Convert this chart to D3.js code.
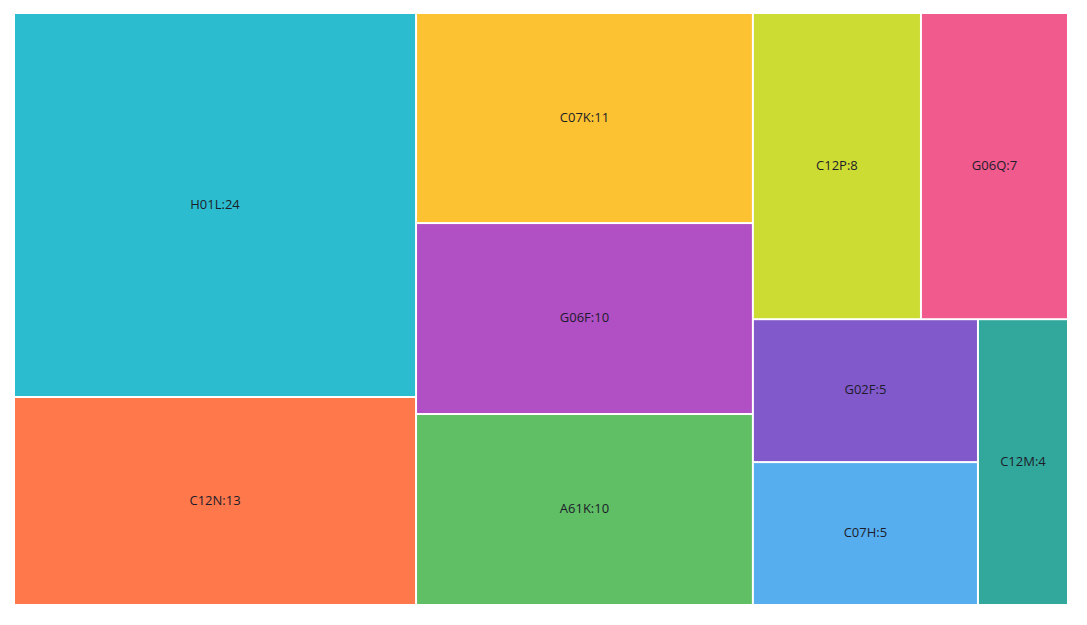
<!DOCTYPE html>
<html><head><meta charset="utf-8">
<script src="https://cdn.jsdelivr.net/npm/d3@7"></script>
<style>body{margin:0;background:#fff;}svg{display:block;}</style>
</head><body>
<svg id="chart" width="1087" height="625"></svg>
<script>
const categories = ["H01L","C12N","C07K","G06F","A61K","C12P","G06Q","G02F","C07H","C12M"];
const values = [24,13,11,10,10,8,7,5,5,4];
const colors = ["#2cbccf","#ff784c","#fdc231","#b14fc4","#60be65","#cddc32","#f05a8c","#8159ca","#57aeef","#32a89c"];

const svg = d3.select("#chart");
const W = 1052, H = 590, X0 = 15, Y0 = 14;
const data = {name:"root", children: categories.map((c,i)=>({name:c, value:values[i], color:colors[i]}))};
const root = d3.hierarchy(data).sum(d=>d.value||0).sort((a,b)=>b.value-a.value);
d3.treemap().tile(d3.treemapSquarify).size([W,H]).paddingInner(2).round(false)(root);

const g = svg.append("g").attr("transform",`translate(${X0},${Y0})`);
const leaf = g.selectAll("g.leaf").data(root.leaves()).join("g").attr("class","leaf");
leaf.append("rect")
  .attr("x",d=>d.x0).attr("y",d=>d.y0)
  .attr("width",d=>d.x1-d.x0).attr("height",d=>d.y1-d.y0)
  .attr("fill",d=>d.data.color);
leaf.append("text")
  .attr("x",d=>(d.x0+d.x1)/2).attr("y",d=>(d.y0+d.y1)/2 - 1.5)
  .attr("text-anchor","middle").attr("dominant-baseline","central")
  .attr("font-family","'Open Sans','Noto Sans',sans-serif").attr("font-size",13)
  .attr("fill","#1c1c2a")
  .text(d=>`${d.data.name}:${d.data.value}`);
</script>
</body></html>
